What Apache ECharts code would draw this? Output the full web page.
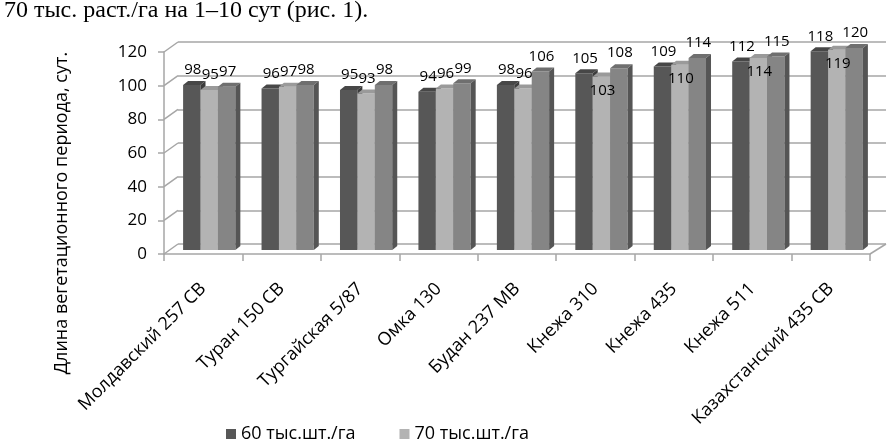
<!DOCTYPE html>
<html>
<head>
<meta charset="utf-8">
<script src="https://cdn.jsdelivr.net/npm/echarts@6/dist/echarts.min.js"></script>
<style>html,body{margin:0;padding:0;background:#fff;}#c{width:894px;height:442px;}</style>
</head>
<body>
<div id="c"></div>
<script>
const categories = ['Молдавский 257 СВ','Туран 150 СВ','Тургайская 5/87','Омка 130','Будан 237 МВ','Кнежа 310','Кнежа 435','Кнежа 511','Казахстанский 435 СВ'];
const seriesNames = ['60 тыс.шт./га','70 тыс.шт./га','80 тыс.шт./га'];
const s60 = [98, 96, 95, 94, 98, 105, 109, 112, 118];
const s70 = [95, 97, 93, 96, 96, 103, 110, 114, 119];
const s80 = [97, 98, 98, 99, 106, 108, 114, 115, 120];
const yTicks = [0, 20, 40, 60, 80, 100, 120];
const headText = '70 тыс. раст./га на 1–10 сут (рис. 1).';
const yTitle = 'Длина вегетационного периода, сут.';

const FONT = 'Open Sans';
const faceColors = ['#575757', '#b3b3b3', '#858585'];
const topColors = ['#474747', '#9a9a9a', '#6f6f6f'];
const sideColors = ['#3c3c3c', '#8a8a8a', '#555555'];
const DX = 5, DY = 4;       // bar depth
const SX = 6, SY = -4;      // offset of bars into the floor

function barGeom(idx, api) {
  const cat = api.value(0), v = api.value(1);
  const p = api.coord([cat, v]);
  const p0 = api.coord([cat, 0]);
  const catW = api.size([1, 0])[0];
  const bw = catW * 0.222;
  const x = p[0] + SX + (idx - 1) * bw - bw / 2;
  return { v: v, x: x, bw: bw, yt: p[1] + SY, yb: p0[1] + SY };
}

function makeBarRender(idx) {
  return function (params, api) {
    const g = barGeom(idx, api);
    const x = g.x, bw = g.bw, yt = g.yt, yb = g.yb;
    return {
      type: 'group', children: [
        { type: 'rect', shape: { x: x, y: yt, width: bw, height: yb - yt }, style: { fill: faceColors[idx] } },
        { type: 'polygon', shape: { points: [[x, yt], [x + DX, yt - DY], [x + bw + DX, yt - DY], [x + bw, yt]] }, style: { fill: topColors[idx] } },
        { type: 'polygon', shape: { points: [[x + bw, yt], [x + bw + DX, yt - DY], [x + bw + DX, yb - DY], [x + bw, yb]] }, style: { fill: sideColors[idx] } }
      ]
    };
  };
}

function makeLabelRender(idx) {
  return function (params, api) {
    const g = barGeom(idx, api);
    const inside = idx === 1 && g.v >= 100;
    return {
      type: 'text',
      style: {
        text: String(g.v), x: g.x + g.bw / 2 + 1, y: inside ? g.yt + 14 : g.yt - 15,
        align: 'center', verticalAlign: 'middle',
        font: '15px "' + FONT + '"', fill: '#000'
      }
    };
  };
}

const seriesData = [s60, s70, s80];
const series = [];
seriesData.forEach((arr, idx) => {
  series.push({
    name: seriesNames[idx], type: 'custom', xAxisIndex: 0, yAxisIndex: 0,
    renderItem: makeBarRender(idx), itemStyle: { color: faceColors[idx] },
    data: arr.map((v, i) => [i, v]), z: 5 + idx
  });
});
seriesData.forEach((arr, idx) => {
  series.push({
    name: 'label-' + idx, type: 'custom', xAxisIndex: 0, yAxisIndex: 0,
    renderItem: makeLabelRender(idx), silent: true,
    data: arr.map((v, i) => [i, v]), z: 20
  });
});

const chart = echarts.init(document.getElementById('c'));
chart.setOption({
  animation: false,
  backgroundColor: '#fff',
  title: {
    text: headText, left: -1, top: -6,
    textStyle: { fontFamily: 'Liberation Serif', fontSize: 24, fontWeight: 'normal', color: '#000' }
  },
  legend: {
    data: [seriesNames[0], seriesNames[1]],
    left: 221, top: 420, itemGap: 44,
    icon: 'rect', itemWidth: 10, itemHeight: 10,
    textStyle: { fontFamily: FONT, fontSize: 18, color: '#000' }
  },
  grid: [
    { left: 164, right: 24, top: 52, bottom: 188 },
    { left: 178, right: 8, top: 42, bottom: 198 }
  ],
  xAxis: [
    {
      type: 'category', gridIndex: 0, data: categories, boundaryGap: true,
      axisLine: { lineStyle: { color: '#a6a6a6', width: 1.5 } },
      axisTick: { show: true, alignWithLabel: false, length: 7, lineStyle: { color: '#a6a6a6', width: 1.5 } },
      axisLabel: { rotate: 45, margin: 32, interval: 0, fontFamily: FONT, fontSize: 18, color: '#000' }
    },
    { type: 'category', gridIndex: 1, data: categories, show: false }
  ],
  yAxis: [
    {
      type: 'value', gridIndex: 0, min: 0, max: 120, interval: 20,
      axisLine: { show: true, lineStyle: { color: '#a6a6a6', width: 1.5 } },
      axisTick: { show: true, length: 6, lineStyle: { color: '#a6a6a6', width: 1.5 } },
      axisLabel: { margin: 17, fontFamily: FONT, fontSize: 17, color: '#000' },
      splitLine: { show: false }
    },
    {
      type: 'value', gridIndex: 1, min: 0, max: 120, interval: 20,
      axisLine: { show: false }, axisTick: { show: false }, axisLabel: { show: false },
      splitLine: { show: true, lineStyle: { color: '#a6a6a6', width: 1.5 } }
    }
  ],
  series: series
});

// 3D connectors between front axis and back wall
const graphics = yTicks.map(v => {
  const yf = chart.convertToPixel({ yAxisIndex: 0 }, v);
  const yb = chart.convertToPixel({ yAxisIndex: 1 }, v);
  return { type: 'line', shape: { x1: 164, y1: yf, x2: 178, y2: yb }, style: { stroke: '#a6a6a6', lineWidth: 1.5 }, z: 1 };
});
const y0f = chart.convertToPixel({ yAxisIndex: 0 }, 0);
const y0b = chart.convertToPixel({ yAxisIndex: 1 }, 0);
graphics.push({ type: 'line', shape: { x1: 870, y1: y0f, x2: 886, y2: y0b }, style: { stroke: '#a6a6a6', lineWidth: 1.5 }, z: 1 });
graphics.push({
  type: 'text', x: 62, y: 213, rotation: Math.PI / 2,
  style: { text: yTitle, align: 'center', verticalAlign: 'middle', font: '18px "' + FONT + '"', fill: '#000' },
  z: 10
});
chart.setOption({ graphic: graphics });
</script>
</body>
</html>
